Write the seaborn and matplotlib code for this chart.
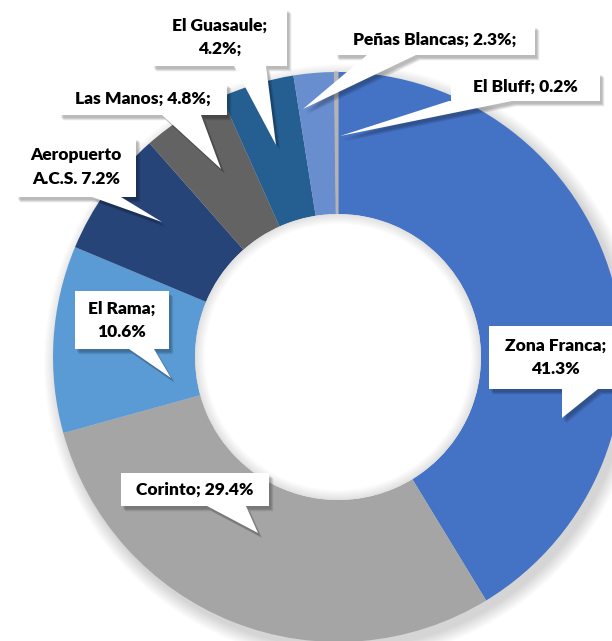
import numpy as np
import matplotlib
matplotlib.use("Agg")
import matplotlib.pyplot as plt
from matplotlib.patches import Polygon, Wedge
import seaborn as sns

# data
names = ["Zona Franca", "Corinto", "El Rama", "Aeropuerto A.C.S.", "Las Manos",
         "El Guasaule", "Peñas Blancas", "El Bluff"]
values = [41.3, 29.4, 10.6, 7.2, 4.8, 4.2, 2.3, 0.2]
templates = ["{n};\n{v}%", "{n}; {v}%", "El Rama;\n{v}%", "Aeropuerto\nA.C.S. {v}%",
             "{n}; {v}%;", "{n};\n{v}%;", "{n}; {v}%;", "{n}; {v}%"]
colors = ["#4472C4", "#A5A5A5", "#5B9BD5", "#264478", "#636363",
          "#255E91", "#698ED0", "#B4B4B4"]

# callout layout in pixel coords (y down): box x0, y0, x1, y1, pointer base b0, b1, tip tx, ty
callouts = [
    (489, 326, 622, 389, 562, 598, 562, 418),
    (121, 473, 269, 506, 207, 246, 258, 533),
    (75, 291, 169, 349, 129, 154, 171, 378),
    (16, 137, 136, 197, 92, 121, 162, 222),
    (59, 83, 227, 115, 162, 201, 221, 169),
    (152, 8, 287, 66, 234, 266, 276, 145),
    (335, 25, 535, 55, 367, 416, 303, 109),
    (451, 72, 600, 101, 449, 512, 340, 136),
]

W, H = 612, 641
cx, cy = 338, H - 357
R, r_in = 285, 143

sns.set_theme(style="white")
plt.rcParams["font.family"] = ["Lato", "DejaVu Sans"]

fig = plt.figure(figsize=(W / 100, H / 100), dpi=100)
ax = fig.add_axes([0, 0, 1, 1])

# soft shadow under the ring
for k in range(14):
    ax.add_patch(Wedge((cx + 5, cy - 6), R + 14 - k, 0, 360, width=R - r_in + 28 - 2 * k,
                       color="black", alpha=0.012, lw=0, zorder=1))

wedges, _ = ax.pie(values, colors=colors, startangle=90, counterclock=False,
                   radius=R, center=(cx, cy), frame=True,
                   wedgeprops=dict(width=R - r_in, edgecolor="none", linewidth=0))
for w in wedges:
    w.set_zorder(2)
wedges[-1].set_edgecolor("#B4B4B4")
wedges[-1].set_linewidth(0.8)

# inner shadow of the hole
ax.add_patch(Wedge((cx, cy), r_in, 0, 360, color="white", lw=0, zorder=2))
for k in range(10):
    ax.add_patch(Wedge((cx, cy), r_in, 0, 360, width=k + 1, color="black",
                       alpha=0.012, lw=0, zorder=3))

# callouts
for name, v, tpl, c in zip(names, values, templates, callouts):
    x0, y0, x1, y1, b0, b1, tx, ty = c
    pts = [(x0, y0), (x1, y0), (x1, y1), (b1, y1), (tx, ty), (b0, y1), (x0, y1)]
    pts = np.array([(x, H - y) for x, y in pts], dtype=float)
    for k in range(5):
        ax.add_patch(Polygon(pts + [2 + k * 0.6, -3 - k * 0.6], closed=True,
                             color="black", alpha=0.06, lw=0, zorder=4))
    ax.add_patch(Polygon(pts, closed=True, facecolor="white", edgecolor="none", zorder=5))
    label = tpl.format(n=name, v=v)
    ax.text((x0 + x1) / 2, H - (y0 + y1) / 2, label, ha="center", va="center",
            fontsize=12.5, fontweight="heavy", color="black", linespacing=1.55, zorder=6)

ax.set_xlim(0, W)
ax.set_ylim(0, H)
ax.set_aspect("equal")
ax.axis("off")

fig.savefig("out.png", dpi=100, facecolor="white")
